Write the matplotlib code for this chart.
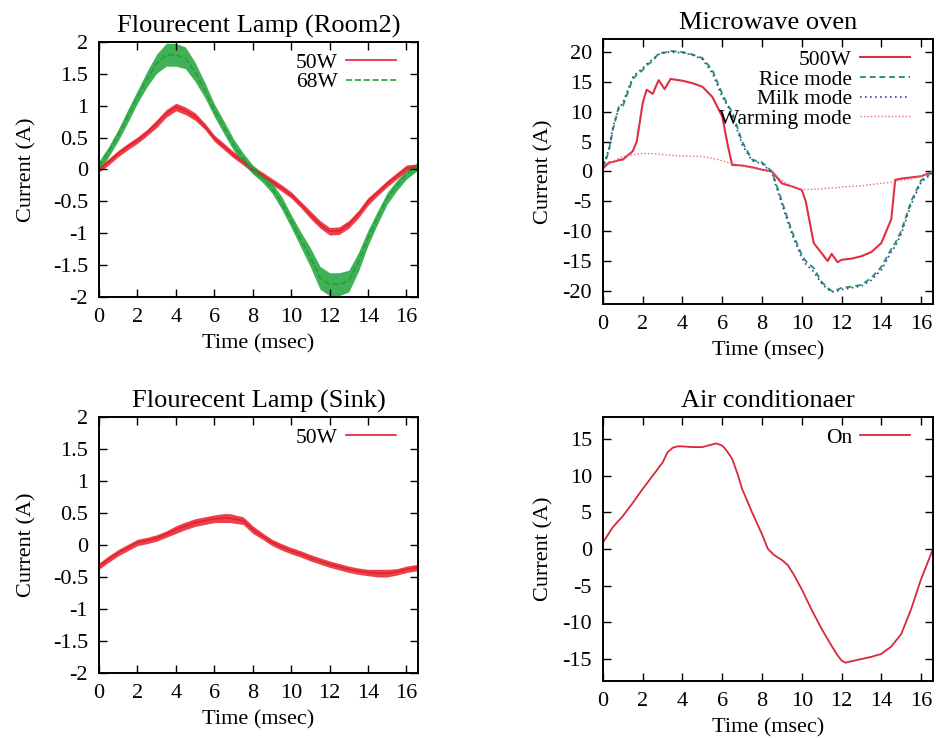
import matplotlib
matplotlib.use("Agg")
import numpy as np
import matplotlib.pyplot as plt

# ---------------------------------------------------------------
# values (time in msec, current in A)
# ---------------------------------------------------------------
t_room = [0, 0.5, 1, 1.5, 2, 2.5, 3, 3.5, 4, 4.5, 5, 5.5, 6, 6.5, 7, 7.5, 8,
          8.5, 9, 9.5, 10, 10.5, 11, 11.5, 12, 12.5, 13, 13.5, 14, 14.5, 15,
          15.5, 16, 16.6]
room_50w = [0.0, 0.12, 0.25, 0.36, 0.46, 0.58, 0.72, 0.88, 0.98, 0.92, 0.83,
            0.68, 0.49, 0.36, 0.23, 0.12, 0.0, -0.09, -0.19, -0.29, -0.40,
            -0.55, -0.71, -0.86, -0.97, -0.96, -0.86, -0.70, -0.50, -0.36,
            -0.22, -0.10, 0.02, 0.05]
room_50w_band = [0.04, 0.05, 0.05, 0.05, 0.05, 0.05, 0.06, 0.06, 0.06, 0.06,
                 0.06, 0.05, 0.05, 0.05, 0.05, 0.05, 0.05, 0.05, 0.05, 0.05,
                 0.05, 0.05, 0.06, 0.06, 0.06, 0.06, 0.06, 0.06, 0.06, 0.05,
                 0.05, 0.05, 0.05, 0.04]
room_68w = [0.05, 0.28, 0.54, 0.84, 1.14, 1.42, 1.66, 1.80, 1.80, 1.75,
            1.53, 1.25, 0.93, 0.66, 0.39, 0.18, 0.0, -0.13, -0.29, -0.52,
            -0.81, -1.10, -1.38, -1.70, -1.80, -1.80, -1.75, -1.45, -1.07,
            -0.75, -0.45, -0.25, -0.08, 0.05]
room_68w_band = [0.08, 0.08, 0.09, 0.10, 0.10, 0.12, 0.15, 0.18, 0.18, 0.17,
                 0.15, 0.12, 0.10, 0.10, 0.09, 0.08, 0.07, 0.07, 0.08, 0.10,
                 0.10, 0.12, 0.15, 0.18, 0.18, 0.18, 0.17, 0.15, 0.12, 0.10,
                 0.09, 0.08, 0.07, 0.06]

t_mw = [0, 0.3, 0.5, 0.8, 1, 1.5, 1.7, 2, 2.2, 2.5, 2.8, 3.1, 3.4, 4, 4.5, 5,
        5.5, 6, 6.3, 6.5, 7, 7.5, 8, 8.5, 9, 9.5, 10, 10.2, 10.6, 11, 11.3,
        11.5, 11.8, 12, 12.5, 13, 13.5, 14, 14.5, 14.7, 15, 15.5, 16, 16.6]
mw_500w = [0.5, 1.5, 1.6, 1.9, 2.0, 3.4, 5.0, 11.5, 13.7, 13.0, 15.3, 13.8,
           15.5, 15.2, 14.8, 14.2, 12.5, 9.2, 4.0, 1.1, 1.0, 0.7, 0.3, 0.0,
           -2.0, -2.5, -3.1, -5.0, -12.0, -13.7, -15.0, -13.8, -15.2, -14.8,
           -14.6, -14.2, -13.5, -12.0, -8.0, -1.4, -1.2, -1.0, -0.8, 0.0]
mw_rice = [0.5, 3.5, 7.0, 10.9, 11.0, 15.5, 16.2, 17.0, 17.8, 18.5, 19.8,
           19.9, 20.2, 20.0, 19.6, 19.0, 17.0, 13.0, 11.0, 10.0, 5.0, 2.0,
           1.5, 0.0, -5.0, -10.0, -14.0, -15.0, -16.2, -18.5, -19.5, -20.0,
           -19.8, -19.5, -19.3, -19.0, -17.8, -16.0, -13.0, -12.0, -10.0,
           -5.0, -1.5, 0.0]
mw_milk = [0.6, 3.8, 7.5, 10.5, 11.5, 15.8, 16.5, 17.3, 18.0, 18.8, 19.6,
           20.0, 20.0, 19.9, 19.5, 18.8, 16.5, 12.5, 10.8, 9.5, 4.5, 1.8,
           1.3, -0.2, -5.5, -10.5, -14.5, -15.5, -16.8, -18.8, -19.7, -20.2,
           -20.0, -19.8, -19.5, -19.2, -18.2, -16.5, -13.5, -12.5, -10.5,
           -5.5, -1.8, -0.2]
mw_warm = [0.5, 1.2, 1.6, 2.2, 2.5, 2.8, 2.9, 3.0, 3.0, 3.0, 2.9, 2.8, 2.7,
           2.6, 2.55, 2.5, 2.2, 1.8, 1.5, 1.3, 1.0, 0.6, 0.3, 0.0, -1.5,
           -2.5, -3.0, -3.0, -3.0, -2.9, -2.8, -2.75, -2.7, -2.6, -2.5, -2.4,
           -2.2, -2.0, -1.8, -1.7, -1.5, -1.2, -0.8, 0.0]

t_sink = [0, 0.5, 1, 1.5, 2, 2.5, 3, 3.5, 4, 4.5, 5, 5.5, 6, 6.5, 6.8, 7.5,
          8, 8.5, 9, 9.5, 10, 10.5, 11, 11.5, 12, 12.5, 13, 13.5, 14, 14.5,
          15, 15.5, 16, 16.6]
sink_50w = [-0.33, -0.22, -0.12, -0.04, 0.04, 0.07, 0.11, 0.17, 0.24, 0.30,
            0.35, 0.38, 0.41, 0.42, 0.42, 0.38, 0.24, 0.14, 0.04, -0.03,
            -0.09, -0.14, -0.20, -0.25, -0.30, -0.34, -0.38, -0.41, -0.43,
            -0.44, -0.44, -0.42, -0.38, -0.35]
sink_50w_band = [0.05, 0.05, 0.05, 0.05, 0.05, 0.05, 0.05, 0.05, 0.06, 0.06,
                 0.06, 0.06, 0.06, 0.07, 0.07, 0.06, 0.06, 0.05, 0.05, 0.05,
                 0.05, 0.05, 0.05, 0.05, 0.05, 0.05, 0.05, 0.05, 0.05, 0.06,
                 0.06, 0.05, 0.05, 0.05]

t_ac = [0, 0.5, 1, 1.5, 2, 2.5, 3, 3.25, 3.5, 3.75, 4, 4.5, 5, 5.4, 5.7, 6,
        6.2, 6.5, 6.8, 7, 7.5, 8, 8.3, 8.6, 9, 9.3, 9.6, 10, 10.5, 11, 11.5,
        11.8, 12, 12.2, 12.5, 13, 13.5, 14, 14.5, 15, 15.5, 16, 16.6]
ac_on = [0.9, 3.0, 4.5, 6.3, 8.2, 10.0, 11.8, 13.2, 13.8, 14.0, 14.0, 13.9,
         13.9, 14.2, 14.4, 14.1, 13.5, 12.3, 10.0, 8.2, 5.0, 2.0, 0.0, -0.8,
         -1.5, -2.2, -3.5, -5.5, -8.3, -10.9, -13.2, -14.5, -15.2, -15.5,
         -15.3, -15.0, -14.7, -14.3, -13.3, -11.6, -8.2, -4.1, 0.0]

# ---------------------------------------------------------------
plt.rcParams['font.family'] = ['Liberation Serif', 'DejaVu Serif']
plt.rcParams['font.size'] = 16
plt.rcParams['axes.unicode_minus'] = False

fig = plt.figure(figsize=(9.36, 7.38), dpi=100)
ax1 = fig.add_axes([0.1058, 0.5976, 0.3408, 0.3455])
ax2 = fig.add_axes([0.6442, 0.5881, 0.3526, 0.3591])
ax3 = fig.add_axes([0.1058, 0.0881, 0.3408, 0.3469])
ax4 = fig.add_axes([0.6442, 0.0772, 0.3526, 0.3577])

red = '#e8202c'
green = '#1fa33a'


def band(ax, t, y, w, color, label, ls='-'):
    y = np.array(y)
    w = np.array(w)
    ax.fill_between(t, y - w, y + w, color=color, lw=0, alpha=0.85)
    ax.plot(t, y, color=color, lw=1.2, ls=ls, label=label)


band(ax1, t_room, room_50w, room_50w_band, red, '50W')
band(ax1, t_room, room_68w, room_68w_band, green, '68W', ls='--')
ax1.set_title('Flourecent Lamp (Room2)', fontsize=19, pad=7)
ax1.set_ylim(-2, 2)
ax1.set_yticks([-2, -1.5, -1, -0.5, 0, 0.5, 1, 1.5, 2])
ax1.set_yticklabels(['-2', '-1.5', '-1', '-0.5', '0', '0.5', '1', '1.5', '2'])

ax2.plot(t_mw, mw_500w, color='#e0303f', lw=1.5, label='500W')
ax2.plot(t_mw, mw_rice, color='#2a9a66', lw=1.4, ls=(0, (3, 2)), label='Rice mode')
ax2.plot(t_mw, mw_milk, color='#3a3fb0', lw=1.2, ls=(0, (1, 2)), label='Milk mode')
ax2.plot(t_mw, mw_warm, color='#e0708a', lw=1.0, ls=(0, (1, 1.5)), label='Warming mode')
ax2.set_title('Microwave oven', fontsize=19, pad=7)
ax2.set_ylim(-22.2, 22.2)
ax2.set_yticks([-20, -15, -10, -5, 0, 5, 10, 15, 20])

band(ax3, t_sink, sink_50w, sink_50w_band, red, '50W')
ax3.set_title('Flourecent Lamp (Sink)', fontsize=19, pad=7)
ax3.set_ylim(-2, 2)
ax3.set_yticks([-2, -1.5, -1, -0.5, 0, 0.5, 1, 1.5, 2])
ax3.set_yticklabels(['-2', '-1.5', '-1', '-0.5', '0', '0.5', '1', '1.5', '2'])

ax4.plot(t_ac, ac_on, color='#d8283a', lw=1.3, label='On')
ax4.set_title('Air conditionaer', fontsize=19, pad=7)
ax4.set_ylim(-18, 18)
ax4.set_yticks([-15, -10, -5, 0, 5, 10, 15])

for ax in (ax1, ax2, ax3, ax4):
    ax.set_xlim(0, 16.6)
    ax.set_xticks(range(0, 17, 2))
    ax.set_xlabel('Time (msec)', labelpad=5)
    ax.set_ylabel('Current (A)', labelpad=12 if ax in (ax1, ax3) else 6)
    ax.tick_params(direction='in', top=True, right=True, length=6, width=1,
                   labelsize=16, pad=8)
    for s in ax.spines.values():
        s.set_linewidth(1.4)
    ax.legend(loc='upper right', bbox_to_anchor=(0.943, 0.975),
              frameon=False, markerfirst=False, handlelength=2.3,
              handletextpad=0.4, labelspacing=-0.02, borderpad=0.2,
              borderaxespad=0.0, fontsize=15.5)

fig.savefig('out.png', dpi=100)
